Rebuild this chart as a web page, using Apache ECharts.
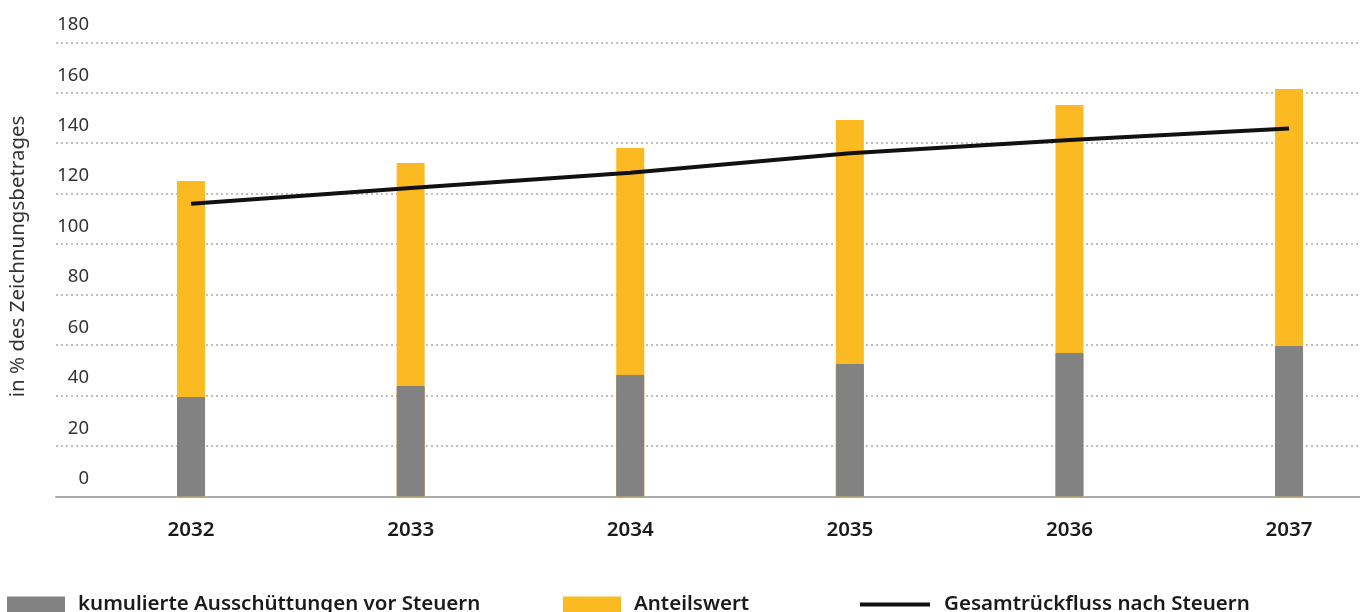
<!DOCTYPE html>
<html>
<head>
<meta charset="utf-8">
<script src="https://cdn.jsdelivr.net/npm/echarts@6/dist/echarts.min.js"></script>
<style>html,body{margin:0;padding:0;background:#fff}#c{width:1360px;height:612px}</style>
</head>
<body>
<div id="c"></div>
<script>
const years = [2032, 2033, 2034, 2035, 2036, 2037];
const ausschuettungen = [39.4, 43.8, 48.2, 52.5, 56.9, 59.6];
const anteilswert = [85.6, 88.4, 89.9, 96.7, 98.3, 101.9];
const gesamtrueckfluss = [116.0, 122.3, 128.3, 136.0, 141.3, 145.8];
const yTicks = [0, 20, 40, 60, 80, 100, 120, 140, 160, 180];
const seriesNames = ['kumulierte Ausschüttungen vor Steuern', 'Anteilswert', 'Gesamtrückfluss nach Steuern'];

const FONT = '"Noto Sans", sans-serif';
const pair = arr => years.map((y, i) => [y, arr[i]]);
// stacked top of the yellow bar (drawn behind the grey bar)
const stackTop = years.map((y, i) => [y, ausschuettungen[i] + anteilswert[i]]);

const chart = echarts.init(document.getElementById('c'));
const legendBase = {
  top: 594, padding: 0, itemHeight: 16, itemWidth: 58, itemGap: 0,
  textStyle: { fontFamily: FONT, fontSize: 20.5, fontWeight: 600, color: '#1a1a1a', padding: [0, 0, 0, 8] },
  selectedMode: false
};
chart.setOption({
  animation: false,
  textStyle: { fontFamily: FONT },
  grid: { left: 56, right: 0, top: 42.3, bottom: 115.5, outerBoundsMode: 'none', containLabel: false },
  legend: [
    Object.assign({}, legendBase, { left: 7, data: [{ name: seriesNames[0], icon: 'rect', itemStyle: { color: '#828282', borderWidth: 0 } }] }),
    Object.assign({}, legendBase, { left: 563, data: [{ name: seriesNames[1], icon: 'rect' }] }),
    Object.assign({}, legendBase, { left: 860, itemWidth: 70, data: [{ name: seriesNames[2], icon: 'rect', itemStyle: { color: '#111' } }],
      itemHeight: 4, top: 594, textStyle: Object.assign({}, legendBase.textStyle, { padding: [0, 0, 0, 9] }) })
  ],
  xAxis: {
    type: 'value',
    min: 2031.385,
    max: 2037.323,
    splitLine: { show: false },
    axisTick: { show: false },
    axisLine: { show: true, onZero: false, lineStyle: { color: '#aaa', width: 2 } },
    axisLabel: {
      customValues: years,
      formatter: v => String(v),
      margin: 23,
      fontFamily: FONT, fontSize: 20.5, fontWeight: 600, color: '#1a1a1a'
    }
  },
  yAxis: {
    type: 'value',
    min: 0, max: 180, interval: 20,
    name: 'in % des Zeichnungsbetrages',
    nameLocation: 'middle',
    nameGap: 27,
    nameTextStyle: { fontFamily: FONT, fontSize: 20.5, color: '#333', padding: [0, 0, 0, 26] },
    axisLine: { show: false },
    axisTick: { show: false },
    axisLabel: {
      inside: true,
      align: 'right',
      verticalAlign: 'bottom',
      margin: 33,
      padding: [0, 0, 8, 0],
      fontFamily: FONT, fontSize: 18.5, color: '#333',
      formatter: v => yTicks.includes(v) ? String(v) : ''
    },
    splitLine: { show: true, lineStyle: { color: '#aaa', type: [2, 3], width: 1.5 } }
  },
  series: [
    {
      name: seriesNames[1], type: 'bar', barWidth: 28, barGap: '-100%',
      itemStyle: { color: '#FBBA21' }, data: stackTop, z: 2
    },
    {
      name: seriesNames[0], type: 'bar', barWidth: 28, barGap: '-100%',
      itemStyle: { color: '#828282', borderColor: '#828282', borderWidth: 1 }, data: pair(ausschuettungen), z: 3
    },
    {
      name: seriesNames[2], type: 'line', showSymbol: false, symbol: 'none',
      lineStyle: { color: '#111', width: 4 }, itemStyle: { color: '#111' },
      data: pair(gesamtrueckfluss), z: 5
    }
  ]
});
</script>
</body>
</html>
